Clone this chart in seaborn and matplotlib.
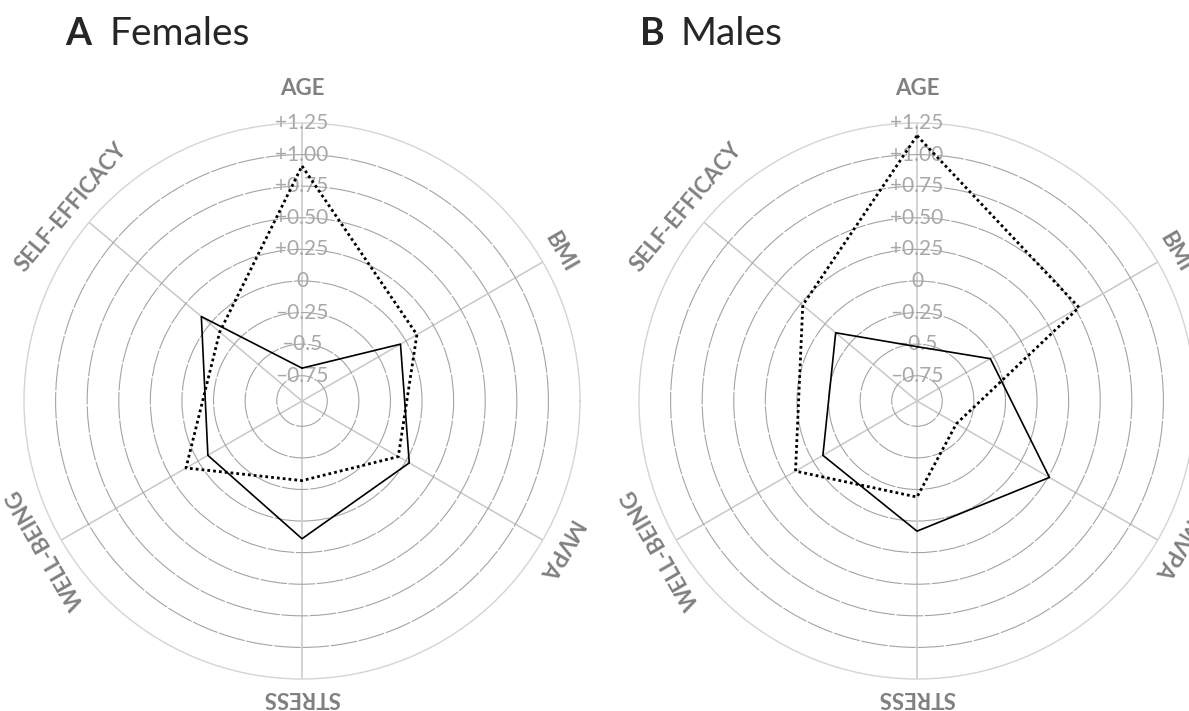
import numpy as np
import pandas as pd
import seaborn as sns
from matplotlib import pyplot as plt

sns.set_style('white')
plt.rcParams['font.family'] = ['Lato', 'DejaVu Sans']

# axis order around the radar (clockwise from top)
categories = ['AGE', 'BMI', 'MVPA', 'STRESS', 'WELL-BEING', 'SELF-EFFICACY']
angles_deg = [90, 30, 330, 270, 210, 140]

# values
females_solid = [-0.69, -0.05, 0.03, 0.14, -0.09, 0.09]
females_dotted = [0.91, 0.10, -0.07, -0.32, 0.11, -0.10]
males_solid = [-0.52, -0.28, 0.26, 0.08, -0.09, -0.11]
males_dotted = [1.15, 0.53, -0.59, -0.19, 0.16, 0.23]

ring_values = [-0.75, -0.5, -0.25, 0, 0.25, 0.5, 0.75, 1.0, 1.25]
ring_labels = ['\u20130.75', '\u20130.5', '\u20130.25', '0', '+0.25', '+0.50',
               '+0.75', '+1.00', '+1.25']

r_min, r_max = -0.95, 1.25
label_r = [1.52, 1.41, 1.40, 1.40, 1.39, 1.43]
label_rot = [0, -60, -120, 180, 120, 50]

theta = np.deg2rad(angles_deg)


def make_df(solid, dotted):
    rows = []
    for name, vals in [('solid', solid), ('dotted', dotted)]:
        for t, v in zip(list(theta) + [theta[0]], list(vals) + [vals[0]]):
            rows.append({'theta': t, 'value': v, 'line': name})
    return pd.DataFrame(rows)


def radar(ax, df):
    sns.lineplot(data=df, x='theta', y='value', style='line', sort=False,
                 estimator=None, ax=ax, color='black', legend=False,
                 dashes={'solid': '', 'dotted': (1, 1.1)},
                 size='line', sizes={'solid': 1.2, 'dotted': 2.0}, zorder=5)
    ax.set_xlabel('')
    ax.set_ylabel('')
    # seaborn autoscales x, which turns a polar axes into a wedge
    ax.set_thetalim(0, 2 * np.pi)
    ax.set_rorigin(None)
    ax.set_ylim(r_min, r_max)
    ax.set_xticks(theta)
    ax.set_xticklabels([])
    ax.set_yticks(ring_values[:-1])
    ax.set_yticklabels([])
    ax.xaxis.grid(True, color='#c8c8c8', lw=1.1, ls='-')
    ax.yaxis.grid(True, color='#a4a4a4', lw=0.8, ls=(0, (24, 1.5)))
    ax.spines['polar'].set_color('#d4d4d4')
    ax.spines['polar'].set_linewidth(1.0)
    ax.tick_params(length=0, pad=0)

    for v, lab in zip(ring_values, ring_labels):
        ax.text(np.pi / 2, v, lab, ha='center', va='center', fontsize=15,
                color='#a8a8a8', zorder=3)
    for t, cat, r, rot in zip(theta, categories, label_r, label_rot):
        ax.text(t, r, cat, ha='center', va='center', fontsize=16,
                fontweight='bold', color='#808080', rotation=rot,
                rotation_mode='anchor')


fig = plt.figure(figsize=(11.89, 7.11), dpi=100)
w, h = 556 / 1189, 556 / 711
ax1 = fig.add_axes([(302 - 278) / 1189, (711 - 401 - 278) / 711, w, h],
                   projection='polar')
ax2 = fig.add_axes([(917 - 278) / 1189, (711 - 401 - 278) / 711, w, h],
                   projection='polar')

radar(ax1, make_df(females_solid, females_dotted))
radar(ax2, make_df(males_solid, males_dotted))

base = 1 - 45 / 711
fig.text(65 / 1189, base, 'A', fontsize=27, fontweight='bold', va='baseline')
fig.text(110 / 1189, base, 'Females', fontsize=28, va='baseline')
fig.text(640 / 1189, base, 'B', fontsize=27, fontweight='bold', va='baseline')
fig.text(680 / 1189, base, 'Males', fontsize=28, va='baseline')

fig.savefig('out.png', dpi=100)
